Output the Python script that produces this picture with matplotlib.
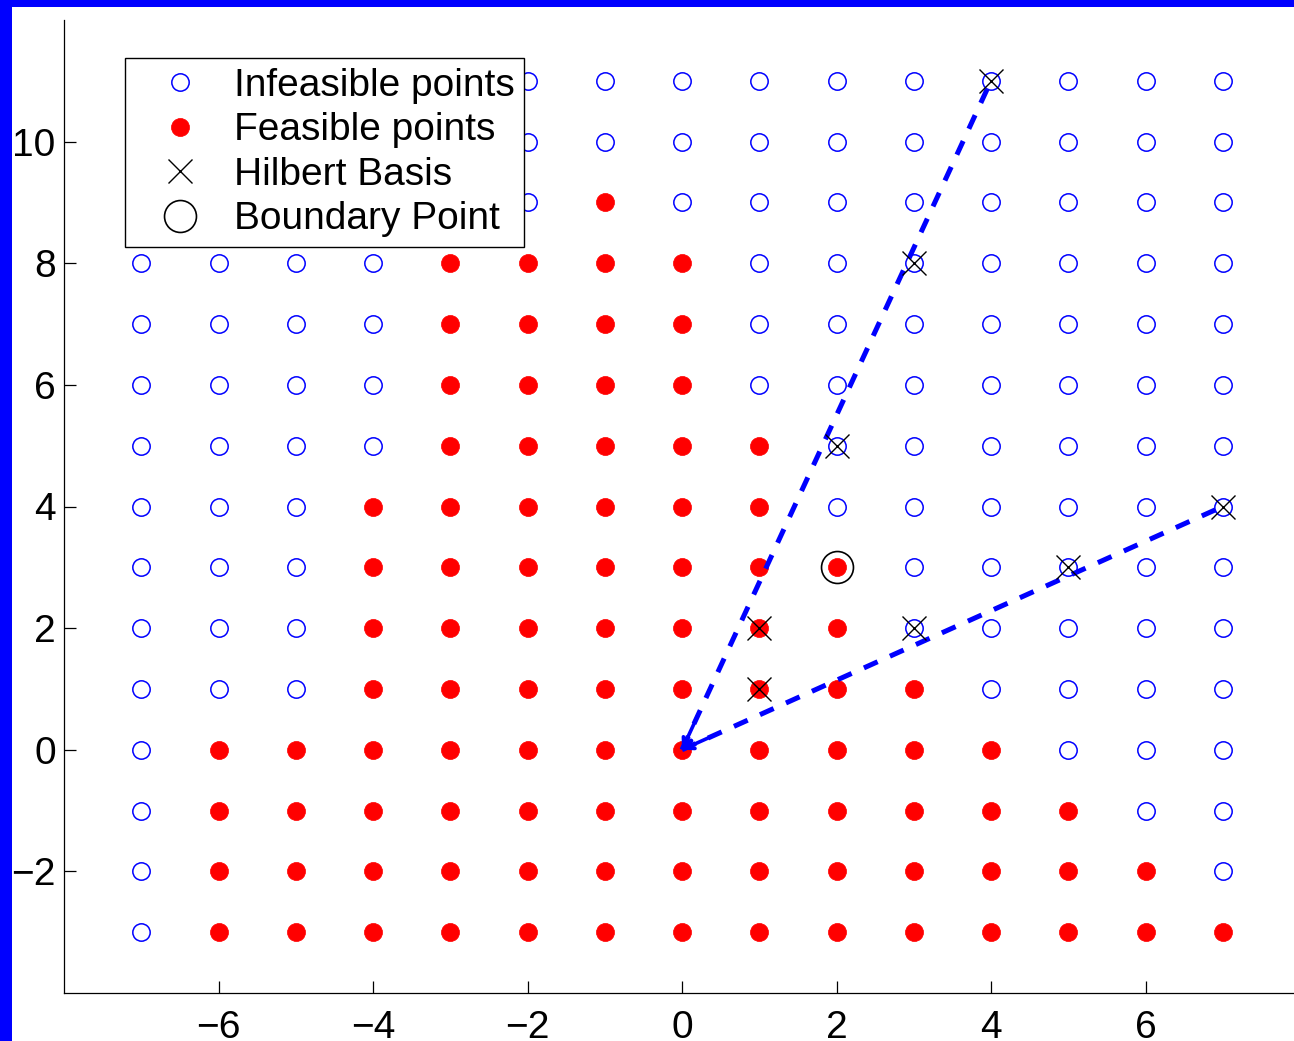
import numpy as np
import matplotlib.pyplot as plt
from matplotlib.patches import Rectangle

plt.rcParams['font.family'] = ['Liberation Sans', 'DejaVu Sans']

# lattice of candidate points
grid_x = list(range(-7, 8))
grid_y = list(range(-3, 12))
# feasible x range for each row of grid_y (None = nothing feasible)
feas_lo = [-6, -6, -6, -6, -4, -4, -4, -4, -3, -3, -3, -3, -1, None, None]
feas_hi = [7, 6, 5, 4, 3, 2, 2, 1, 1, 0, 0, 0, -1, None, None]

hilbert_x = [1, 1, 2, 3, 4, 3, 5, 7]
hilbert_y = [1, 2, 5, 8, 11, 2, 3, 4]
boundary_x = [2]
boundary_y = [3]
# cone rays from the origin
ray_x = [4, 7]
ray_y = [11, 4]

feas_pts, infeas_pts = [], []
for y, lo, hi in zip(grid_y, feas_lo, feas_hi):
    for x in grid_x:
        if lo is not None and lo <= x <= hi:
            feas_pts.append((x, y))
        else:
            infeas_pts.append((x, y))
feas_pts = np.array(feas_pts)
infeas_pts = np.array(infeas_pts)

fig = plt.figure(figsize=(12.94, 10.41), dpi=100, facecolor=(0, 0, 1))
fig.add_artist(Rectangle((12 / 1294, 0), 1, (1041 - 7) / 1041,
                         transform=fig.transFigure, facecolor='white',
                         edgecolor='none', zorder=-5))
ax = fig.add_axes([64 / 1294, 48 / 1041, (1300 - 64) / 1294, (993 - 20) / 1041])
ax.set_facecolor('none')

ax.plot(infeas_pts[:, 0], infeas_pts[:, 1], 'o', ls='none', ms=12.5, mfc='none',
        mec=(0, 0, 1), mew=1.1, label='Infeasible points', zorder=2)
ax.plot(feas_pts[:, 0], feas_pts[:, 1], 'o', ls='none', ms=13, mfc=(1, 0, 0),
        mec=(1, 0, 0), mew=0.5, label='Feasible points', zorder=2)

for ex, ey in zip(ray_x, ray_y):
    ax.plot([0, ex], [0, ey], color=(0, 0, 1), lw=3.6, ls=(0, (3.0, 2.7)),
            dash_capstyle='butt', zorder=3)
    ax.annotate('', xy=(0, 0), xytext=(0.05 * ex, 0.05 * ey),
                arrowprops=dict(arrowstyle='->, head_length=0.6, head_width=0.3',
                                color=(0, 0, 1), lw=2.6, shrinkA=0, shrinkB=0),
                zorder=3)

ax.plot(hilbert_x, hilbert_y, 'x', ls='none', ms=17, color='black', mew=1.0,
        label='Hilbert Basis', zorder=4)
ax.plot(boundary_x, boundary_y, 'o', ls='none', ms=23, mfc='none', mec='black',
        mew=1.2, label='Boundary Point', zorder=4)

ax.set_xlim(-8, 8)
ax.set_ylim(-4, 12)
ax.set_xticks(range(-6, 7, 2))
ax.set_yticks(range(-2, 11, 2))
ax.spines['top'].set_visible(False)
ax.spines['right'].set_visible(False)
for s in ('left', 'bottom'):
    ax.spines[s].set_linewidth(0.9)
ax.tick_params(direction='in', length=8.6, width=0.9, labelsize=28)
ax.tick_params(axis='x', pad=12)
ax.tick_params(axis='y', pad=6)

leg = ax.legend(loc='upper left', bbox_to_anchor=((125 - 64) / 1236, (993 - 58) / 973),
                borderaxespad=0, fontsize=28, frameon=True, fancybox=False,
                edgecolor='black', framealpha=1, borderpad=0.25, labelspacing=0.22,
                handlelength=2.33, handletextpad=0.22, numpoints=1)
leg.get_frame().set_linewidth(1.0)
leg.set_zorder(10)

fig.savefig('out.png', dpi=100, facecolor=fig.get_facecolor())
